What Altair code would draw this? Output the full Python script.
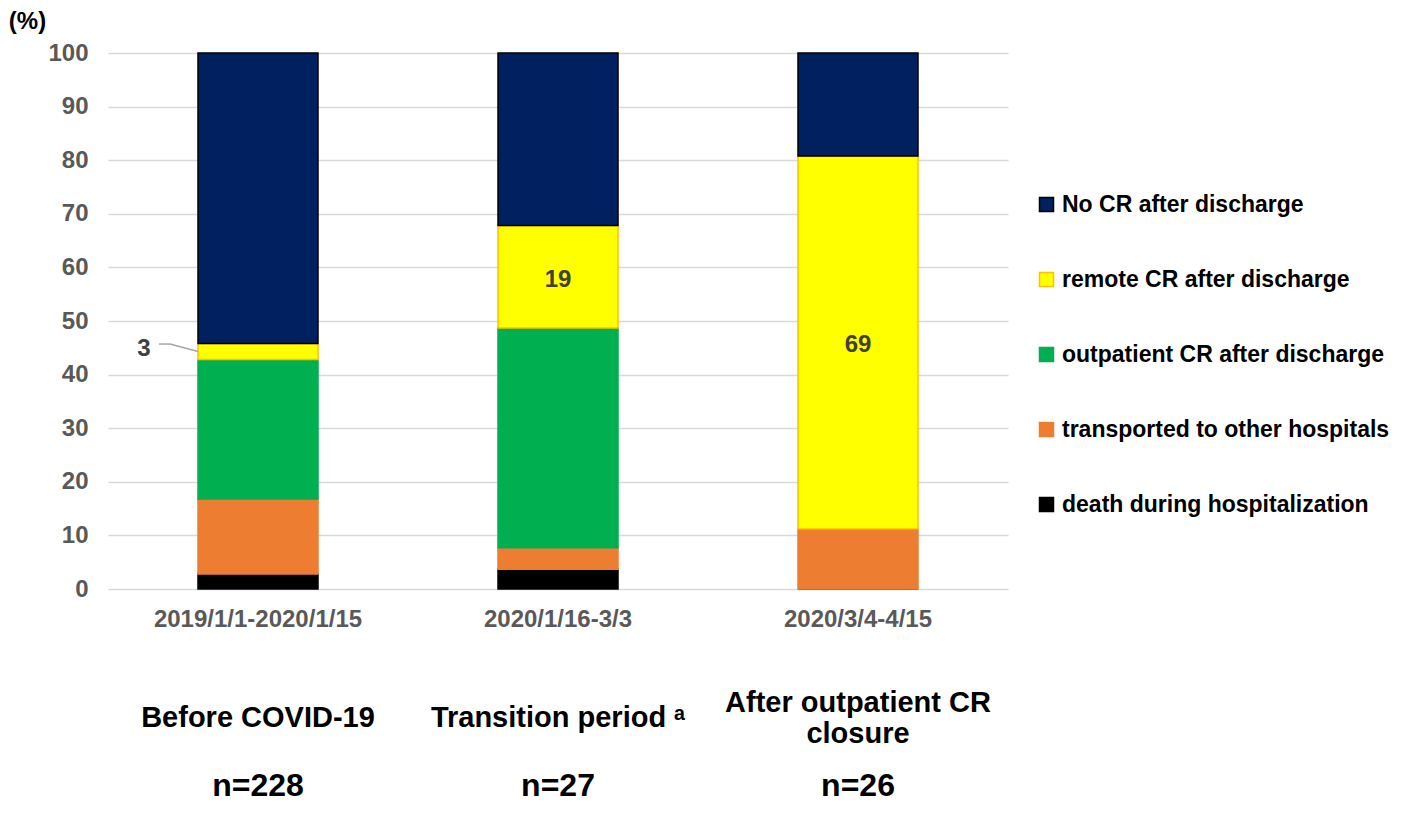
import altair as alt
import pandas as pd

# ---- data ----
periods = ["2019/1/1-2020/1/15", "2020/1/16-3/3", "2020/3/4-4/15"]
captions = ["Before COVID-19", "Transition period \u1d43", "After outpatient CR\nclosure"]
n_labels = ["n=228", "n=27", "n=26"]

outcomes = [
    "death during hospitalization",
    "transported to other hospitals",
    "outpatient CR after discharge",
    "remote CR after discharge",
    "No CR after discharge",
]
death = [2.8, 3.7, 0.0]
transported = [14.0, 4.0, 11.2]
outpatient = [26.0, 41.0, 0.0]
remote = [3.0, 19.1, 69.6]
no_cr = [54.2, 32.2, 19.2]
remote_labels = ["3", "19", "69"]

fill_colors = ["#000000", "#ED7D31", "#00B050", "#FFFF00", "#002060"]
stroke_colors = ["#000000", "#ED7D31", "#00B050", "#FFC000", "#000000"]

series = [death, transported, outpatient, remote, no_cr]

rows = []
for i, p in enumerate(periods):
    base = 0.0
    for k, name in enumerate(outcomes):
        v = series[k][i]
        rows.append({"period": p, "outcome": name, "value": v, "order": k,
                     "mid": base + v / 2})
        base += v
df = pd.DataFrame(rows)

lab = df[df["outcome"] == "remote CR after discharge"].copy()
lab["label"] = remote_labels
inside = lab[lab["period"] != periods[0]]
outside = lab[lab["period"] == periods[0]]
leader_y = float(outside["mid"].iloc[0])
leader_y_top = leader_y + 1.4

cap_df = pd.DataFrame({"period": periods, "caption": captions, "n": n_labels})
cap_df["multi"] = cap_df["caption"].str.contains("\n")

legend_domain = outcomes[::-1]
legend_fill = fill_colors[::-1]
legend_stroke = stroke_colors[::-1]

FONT = "Liberation Sans"

x_enc = alt.X("period:N", sort=periods,
              scale=alt.Scale(paddingInner=0.6, paddingOuter=0.3),
              axis=alt.Axis(title=None, labelAngle=0, labelFont=FONT,
                            labelFontSize=24, labelFontWeight="bold",
                            labelColor="#595959", domain=False, ticks=False,
                            labelPadding=18, labelLimit=0))

y_scale = alt.Scale(domain=[0, 100], nice=False)

legend = alt.Legend(
    title=None, orient="none", legendX=927, legendY=140,
    labelFont=FONT, labelFontSize=23, labelFontWeight="bold",
    labelColor="#000000", symbolType="square", labelLimit=0,
    symbolSize=196, symbolStrokeWidth=1.5, labelOffset=4,
    rowPadding=51, padding=0)

bars = alt.Chart(df).mark_bar(strokeWidth=1.5).encode(
    x=x_enc,
    y=alt.Y("value:Q", stack="zero", scale=y_scale,
            axis=alt.Axis(values=list(range(0, 101, 10)), title="(%)",
                          titleAngle=0, titleX=-81, titleY=-32,
                          titleAlign="center", titleBaseline="middle",
                          titleFont=FONT, titleFontSize=24,
                          titleFontWeight="bold", titleColor="#000000",
                          labelFont=FONT, labelFontSize=24,
                          labelFontWeight="bold", labelColor="#595959",
                          labelPadding=20, domain=False, ticks=False,
                          gridColor="#D9D9D9", gridWidth=1.5)),
    fill=alt.Fill("outcome:N",
                  scale=alt.Scale(domain=legend_domain, range=legend_fill),
                  legend=legend),
    stroke=alt.Stroke("outcome:N",
                      scale=alt.Scale(domain=legend_domain, range=legend_stroke),
                      legend=legend),
    order=alt.Order("order:Q", sort="ascending"),
)

text_in = alt.Chart(inside).mark_text(
    font=FONT, fontSize=24, fontWeight="bold", color="#404040",
    baseline="middle", align="center", dy=3).encode(
    x=alt.X("period:N", sort=periods),
    y=alt.Y("mid:Q", scale=y_scale),
    text="label:N",
)

text_out = alt.Chart(outside).mark_text(
    font=FONT, fontSize=24, fontWeight="bold", color="#404040",
    baseline="middle", align="center", dx=-114, dy=-3).encode(
    x=alt.X("period:N", sort=periods),
    y=alt.Y("mid:Q", scale=y_scale),
    text="label:N",
)

lead1 = alt.Chart(outside).mark_rule(color="#A6A6A6", strokeWidth=1.5).encode(
    x=alt.value(51), x2=alt.value(62), y=alt.datum(leader_y_top))
lead2 = alt.Chart(outside).mark_rule(color="#A6A6A6", strokeWidth=1.5).encode(
    x=alt.value(62), x2=alt.value(90), y=alt.datum(leader_y_top),
    y2=alt.datum(leader_y))

cap_single = alt.Chart(cap_df).transform_filter("!datum.multi").mark_text(
    font=FONT, fontSize=29, fontWeight="bold", color="#000000",
    baseline="middle", align="center").encode(
    x=alt.X("period:N", sort=periods),
    y=alt.value(665),
    text="caption:N",
)

cap_multi = alt.Chart(cap_df).transform_filter("datum.multi").mark_text(
    font=FONT, fontSize=29, fontWeight="bold", color="#000000",
    baseline="middle", align="center", lineBreak="\n", lineHeight=31).encode(
    x=alt.X("period:N", sort=periods),
    y=alt.value(650),
    text="caption:N",
)

n_text = alt.Chart(cap_df).mark_text(
    font=FONT, fontSize=32, fontWeight="bold", color="#000000",
    baseline="alphabetic", align="center").encode(
    x=alt.X("period:N", sort=periods),
    y=alt.value(743),
    text="n:N",
)

chart = alt.layer(bars, text_in, text_out, lead1, lead2,
                  cap_single, cap_multi, n_text).properties(
    width=900, height=536,
    autosize=alt.AutoSizeParams(type="none"),
    padding={"left": 100, "top": 45, "right": 402, "bottom": 216},
).configure_view(stroke=None).configure_axis(gridColor="#D9D9D9")

chart.save("out.html", embed_options={"renderer": "svg", "actions": False})
